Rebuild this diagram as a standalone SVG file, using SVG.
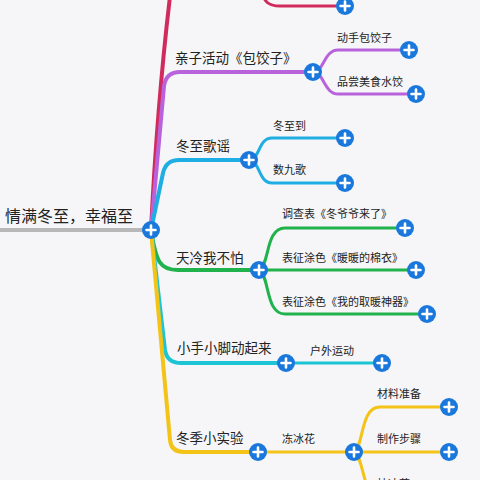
<svg xmlns="http://www.w3.org/2000/svg" xmlns:xlink="http://www.w3.org/1999/xlink" width="480" height="480" viewBox="0 0 480 480">
<style>
.t{font-family:"Noto Sans CJK SC","Noto Sans",sans-serif;fill:#222;dominant-baseline:central}
.main{font-size:13.5px}
.sub{font-size:11px}
.root{font-size:16px}
.ln{fill:none;stroke-linecap:round;stroke-linejoin:round}
.m{stroke-width:4}
.s{stroke-width:3}
.red{stroke:#d12a5c}
.pur{stroke:#b862dc}
.blu{stroke:#1eaee4}
.grn{stroke:#20b24c}
.tur{stroke:#1cc4d6}
.yel{stroke:#f3c417}
</style>
<defs>
<g id="plus">
<circle r="9" fill="#1a78dc"/>
<path d="M-4.5,0H4.5M0,-4.5V4.5" stroke="#fff" stroke-width="2.6" stroke-linecap="round"/>
</g>
</defs>
<rect width="480" height="480" fill="#f6f6f8"/>
<g id="connectors">
<path class="ln" d="M-2,230H145" stroke="#b8b8b8" stroke-width="4"/>
<path class="ln m red" d="M151,230 C155,150 162,60 172,-20"/>
<path class="ln s red" d="M260,-12 C264,2 268,6 280,6 H345"/>
<path class="ln m pur" d="M151,230 L164,86 Q166,72 180,72 H313"/>
<path class="ln s pur" d="M313,72 C324,72 324,50 338,50 H409"/>
<path class="ln s pur" d="M313,72 C324,72 324,94 338,94 H416"/>
<path class="ln m blu" d="M151,230 L163,173 Q166,160 179,160 H249"/>
<path class="ln s blu" d="M249,160 C260,160 258,138 272,138 H345"/>
<path class="ln s blu" d="M249,160 C260,160 258,183 272,183 H345"/>
<path class="ln m grn" d="M151,230 C156,262 160,270 178,270 H259"/>
<path class="ln s grn" d="M259,270 C270,265 265,228 285,228 H405"/>
<path class="ln s grn" d="M259,270 H416"/>
<path class="ln s grn" d="M259,270 C270,276 265,314 285,314 H427"/>
<path class="ln m tur" d="M151,230 L165,350 Q167,363 181,363 H286"/>
<path class="ln s tur" d="M286,363 H382"/>
<path class="ln m yel" d="M151,230 L170,440 Q171,452 184,452 H258"/>
<path class="ln s yel" d="M258,452 H354"/>
<path class="ln s yel" d="M354,452 C364,446 360,407 380,407 H449"/>
<path class="ln s yel" d="M354,452 H449"/>
<path class="ln s yel" d="M354,452 C364,458 362,492 378,500"/>
</g>
<g id="root">
<text class="t root" x="5" y="215">情满冬至，幸福至</text>
<use href="#plus" x="151" y="230"/>
</g>
<g id="n-top">
<use href="#plus" x="345" y="6"/>
</g>
<g id="n-qinzi">
<text class="t main" x="175" y="57">亲子活动《包饺子》</text>
<use href="#plus" x="313" y="72"/>
</g>
<g id="n-dongshou">
<text class="t sub" x="337" y="37">动手包饺子</text>
<use href="#plus" x="409" y="50"/>
</g>
<g id="n-pinchang">
<text class="t sub" x="337" y="81">品尝美食水饺</text>
<use href="#plus" x="416" y="94"/>
</g>
<g id="n-gequ">
<text class="t main" x="176" y="145">冬至歌谣</text>
<use href="#plus" x="249" y="160"/>
</g>
<g id="n-dongzhidao">
<text class="t sub" x="273" y="125">冬至到</text>
<use href="#plus" x="345" y="138"/>
</g>
<g id="n-shujiu">
<text class="t sub" x="273" y="169">数九歌</text>
<use href="#plus" x="345" y="183"/>
</g>
<g id="n-tianleng">
<text class="t main" x="176" y="257">天冷我不怕</text>
<use href="#plus" x="259" y="270"/>
</g>
<g id="n-diaocha">
<text class="t sub" x="282" y="213">调查表《冬爷爷来了》</text>
<use href="#plus" x="405" y="228"/>
</g>
<g id="n-mianyi">
<text class="t sub" x="282" y="257">表征涂色《暖暖的棉衣》</text>
<use href="#plus" x="416" y="270"/>
</g>
<g id="n-shenqi">
<text class="t sub" x="282" y="301">表征涂色《我的取暖神器》</text>
<use href="#plus" x="427" y="314"/>
</g>
<g id="n-xiaoshou">
<text class="t main" x="177" y="347">小手小脚动起来</text>
<use href="#plus" x="286" y="363"/>
</g>
<g id="n-huwai">
<text class="t sub" x="310" y="350">户外运动</text>
<use href="#plus" x="382" y="363"/>
</g>
<g id="n-shiyan">
<text class="t main" x="176" y="437">冬季小实验</text>
<use href="#plus" x="258" y="452"/>
</g>
<g id="n-dongbinghua">
<text class="t sub" x="282" y="438">冻冰花</text>
<use href="#plus" x="354" y="452"/>
</g>
<g id="n-cailiao">
<text class="t sub" x="377" y="393">材料准备</text>
<use href="#plus" x="449" y="407"/>
</g>
<g id="n-zhizuo">
<text class="t sub" x="377" y="438">制作步骤</text>
<use href="#plus" x="449" y="452"/>
</g>
<g id="n-last">
<text class="t sub" x="377" y="483">枝冰花</text>
</g>
</svg>
